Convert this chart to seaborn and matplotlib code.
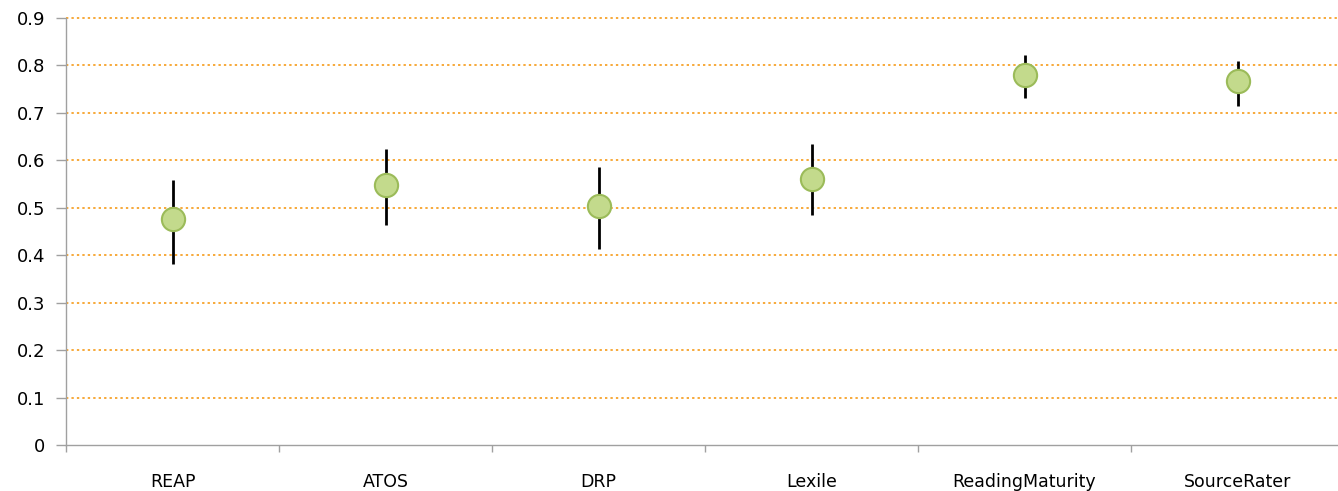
import numpy as np
import pandas as pd
import seaborn as sns
import matplotlib.pyplot as plt
from matplotlib.ticker import FixedLocator

# values
measures = ['REAP', 'ATOS', 'DRP', 'Lexile', 'ReadingMaturity', 'SourceRater']
mean_r = [0.476, 0.549, 0.504, 0.561, 0.780, 0.767]
ci_low = [0.381, 0.464, 0.413, 0.485, 0.731, 0.715]
ci_high = [0.559, 0.624, 0.586, 0.634, 0.822, 0.809]
y_ticks = [0, 0.1, 0.2, 0.3, 0.4, 0.5, 0.6, 0.7, 0.8, 0.9]
y_labels = ['0', '0.1', '0.2', '0.3', '0.4', '0.5', '0.6', '0.7', '0.8', '0.9']

df = pd.DataFrame({'measure': measures, 'r': mean_r, 'lo': ci_low, 'hi': ci_high})

sns.set_style('white')
plt.rcParams['font.family'] = ['DejaVu Sans']

fig = plt.figure(figsize=(13.38, 4.91), dpi=100)
ax = fig.add_axes([66 / 1338, 1 - 445 / 491, 1278 / 1338, 427 / 491])

pos = np.arange(len(measures))
ax.vlines(pos, df['lo'], df['hi'], color='black', linewidth=2, zorder=2)
sns.scatterplot(data=df, x='measure', y='r', ax=ax, s=280, color='#c3da8c',
                edgecolor='#9bbb59', linewidth=1.5, zorder=3, legend=False)

ax.set_xlim(-0.5, len(measures) - 0.5)
ax.set_ylim(0, 0.9)
ax.set_yticks(y_ticks)
ax.set_yticklabels(y_labels)

# dotted orange gridlines (none at zero)
for v in y_ticks[1:]:
    ax.axhline(v, color='#f7a93a', linestyle=(0, (1.2, 1.6)), linewidth=1.4, zorder=1, clip_on=False)

ax.set_xticks(pos)
ax.set_xticklabels(measures)
ax.xaxis.set_minor_locator(FixedLocator(np.arange(-0.5, len(measures), 1)))
ax.tick_params(axis='x', which='major', length=0, pad=20, labelsize=12.5, labelcolor='black')
ax.tick_params(axis='x', which='minor', length=5, color='#a0a0a0', width=1, direction='out', bottom=True)
ax.tick_params(axis='y', length=7, color='#a0a0a0', width=1, direction='out', left=True,
               labelsize=13, labelcolor='black', pad=8)

for side in ['top', 'right']:
    ax.spines[side].set_visible(False)
for side in ['left', 'bottom']:
    ax.spines[side].set_color('#a0a0a0')
    ax.spines[side].set_linewidth(1)

ax.set_xlabel('')
ax.set_ylabel('')

fig.savefig('out.png', dpi=100)
